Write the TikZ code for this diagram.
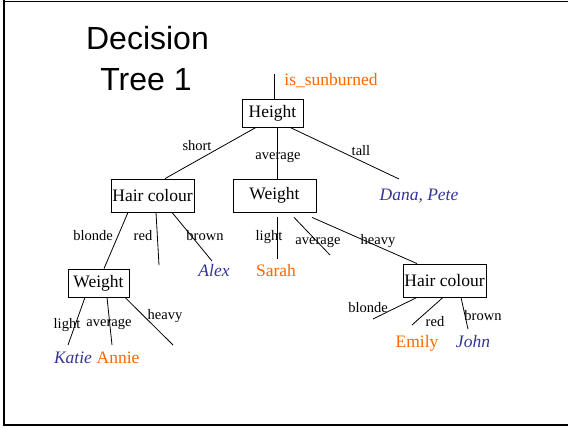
\documentclass[tikz,border=0pt]{standalone}
\usepackage{fontspec}
\setmainfont{Liberation Serif}
\newfontfamily\titlefont{Liberation Sans}
\usetikzlibrary{positioning}
\definecolor{burntcol}{HTML}{FF6600}
\definecolor{finecol}{HTML}{333399}

\begin{document}
\begin{tikzpicture}[x=1pt, y=-1pt, line width=0.8pt,
    box/.style={draw, inner sep=0pt, minimum height=33pt, font=\fontsize{17.5}{20}\selectfont},
    lbl/.style={inner sep=0pt, anchor=base, font=\fontsize{14.5}{16}\selectfont},
    sunburned/.style={inner sep=0pt, anchor=base, text=burntcol, font=\fontsize{17.5}{20}\selectfont},
    notburned/.style={inner sep=0pt, anchor=base, text=finecol, font=\fontsize{17.5}{20}\selectfont\itshape},
    heading/.style={inner sep=0pt, anchor=base, font=\titlefont\fontsize{32}{38}\selectfont}]
    \useasboundingbox (0,0) rectangle (568,428);
    \draw[line width=1pt] (3,1.5) -- (568,1.5);
    \draw[line width=2pt] (4,0.5) -- (4,425);
    \draw[line width=2pt] (3,425) -- (568,425);

    \node[heading] (title1) at (147.5,50) {Decision};
    \node[heading] (title2) at (146,90.7) {Tree 1};

    \node[box, minimum width=61pt, minimum height=28pt] (height) at (272.5,113) {Height};
    \node[box, minimum width=83pt] (hairA) at (152.5,195.5) {Hair colour};
    \node[box, minimum width=83pt] (weightB) at (274.5,195.5) {Weight};
    \node[box, minimum width=61pt, minimum height=28pt] (weightA) at (98.5,283) {Weight};
    \node[box, minimum width=83pt] (hairC) at (444.5,280.5) {Hair colour};

    \coordinate (rootend) at (274,74);
    \node[sunburned, anchor=base west] (target) at (284,86) {is\_sunburned};

    \node[lbl] (lshort) at (197,150) {short};
    \node[lbl] (lavg) at (278,159) {average};
    \node[lbl] (ltall) at (361,155) {tall};
    \node[notburned] (dana) at (419,200) {Dana, Pete};

    \node[lbl] (lblondeA) at (93,240) {blonde};
    \node[lbl] (lredA) at (143,240) {red};
    \node[lbl] (lbrownA) at (205,240) {brown};
    \node[notburned] (alex) at (214,276) {Alex};

    \node[lbl] (llightB) at (269,240) {light};
    \node[lbl] (lavgB) at (318,244) {average};
    \node[lbl] (lheavyB) at (378,244) {heavy};
    \node[sunburned] (sarah) at (276,276) {Sarah};

    \node[lbl] (llightA) at (67,328) {light};
    \node[lbl] (lavgA) at (109,326) {average};
    \node[lbl] (lheavyA) at (165,319) {heavy};
    \node[notburned] (katie) at (73,363) {Katie};
    \node[sunburned] (annie) at (118,363) {Annie};

    \node[lbl] (lblondeC) at (368,312) {blonde};
    \node[lbl] (lredC) at (435,326) {red};
    \node[lbl] (lbrownC) at (483,320) {brown};
    \node[sunburned] (emily) at (417,347) {Emily};
    \node[notburned] (john) at (473,347) {John};

    \coordinate (tallend) at (399,179);
    \coordinate (redend) at (159,265);
    \coordinate (alexend) at (212,261);
    \coordinate (sarahend) at (277,259);
    \coordinate (avgBend) at (330,255);
    \coordinate (katieend) at (68,345);
    \coordinate (annieend) at (112,345);
    \coordinate (heavyAend) at (173,345);
    \coordinate (blondeCend) at (373,319);
    \coordinate (emilyend) at (412,325);
    \coordinate (johnend) at (468,329);

    \draw (rootend) -- ([xshift=1.5pt]height.north);
    \draw ([xshift=-16.5pt]height.south) -- ([xshift=12.5pt]hairA.north);
    \draw ([xshift=4.5pt]height.south) -- ([xshift=2.5pt]weightB.north);
    \draw ([xshift=17.5pt]height.south) -- (tallend);

    \draw ([xshift=-24.5pt]hairA.south) -- ([xshift=5.5pt]weightA.north);
    \draw ([xshift=3.5pt]hairA.south) -- (redend);
    \draw ([xshift=19.5pt]hairA.south) -- (alexend);

    \draw ([shift={(2.5,5)}]weightB.south) -- (sarahend);
    \draw ([shift={(19.5,5)}]weightB.south) -- (avgBend);
    \draw ([shift={(37.5,5)}]weightB.south) -- ([xshift=-27.5pt]hairC.north);

    \draw ([xshift=-13.5pt]weightA.south) -- (katieend);
    \draw ([xshift=8.5pt]weightA.south) -- (annieend);
    \draw ([xshift=26.5pt]weightA.south) -- (heavyAend);

    \draw ([xshift=-27.5pt]hairC.south) -- (blondeCend);
    \draw ([xshift=-1.5pt]hairC.south) -- (emilyend);
    \draw ([xshift=16.5pt]hairC.south) -- (johnend);
\end{tikzpicture}
\end{document}
